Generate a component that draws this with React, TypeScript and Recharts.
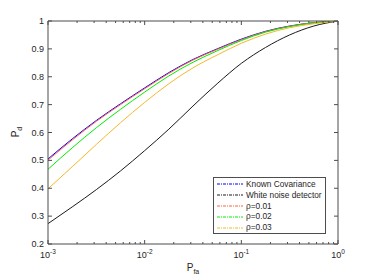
import { LineChart, Line, XAxis, YAxis, Legend } from 'recharts'

const pfa = [0.001, 0.00178, 0.00316, 0.00562, 0.01, 0.0178, 0.0316, 0.0562, 0.1, 0.178, 0.316, 0.562, 1]
const knownCov = [0.505, 0.577, 0.643, 0.703, 0.76, 0.815, 0.862, 0.9, 0.935, 0.963, 0.982, 0.994, 1]
const rho001 = [0.501, 0.573, 0.64, 0.7, 0.757, 0.812, 0.86, 0.898, 0.933, 0.962, 0.981, 0.994, 1]
const rho002 = [0.468, 0.545, 0.617, 0.683, 0.745, 0.803, 0.852, 0.893, 0.93, 0.96, 0.98, 0.993, 1]
const rho003 = [0.398, 0.477, 0.557, 0.635, 0.708, 0.775, 0.832, 0.878, 0.92, 0.953, 0.976, 0.99, 1]
const whiteNoise = [0.273, 0.333, 0.395, 0.462, 0.535, 0.612, 0.695, 0.775, 0.848, 0.905, 0.95, 0.982, 1]

const yTicks = [0.2, 0.3, 0.4, 0.5, 0.6, 0.7, 0.8, 0.9, 1]
const xMajor = [0.001, 0.01, 0.1, 1]
const xExp = ['-3', '-2', '-1', '0']
const xTicks = [
  0.001, 0.002, 0.003, 0.004, 0.005, 0.006, 0.007, 0.008, 0.009,
  0.01, 0.02, 0.03, 0.04, 0.05, 0.06, 0.07, 0.08, 0.09,
  0.1, 0.2, 0.3, 0.4, 0.5, 0.6, 0.7, 0.8, 0.9, 1,
]

const series = [
  { key: 'known', name: 'Known Covariance', color: '#0000ff', rho: false },
  { key: 'white', name: 'White noise detector', color: '#1a1a1a', rho: false },
  { key: 'r1', name: '=0.01', color: '#ff6040', rho: true },
  { key: 'r2', name: '=0.02', color: '#00ee00', rho: true },
  { key: 'r3', name: '=0.03', color: '#f5b82a', rho: true },
]

const data = pfa.map((p, i) => ({
  pfa: p,
  known: knownCov[i],
  white: whiteNoise[i],
  r1: rho001[i],
  r2: rho002[i],
  r3: rho003[i],
}))

const AXIS = '#4d4d4d'
const FONT = 'Liberation Sans, Arial, sans-serif'

const isMajor = (v: number) => xMajor.some((m) => Math.abs(m - v) < m * 1e-6)

const BottomTick = (props: any) => {
  const { x, y, payload } = props
  const idx = xMajor.findIndex((m) => Math.abs(m - payload.value) < m * 1e-6)
  const major = idx >= 0
  return (
    <g>
      <line x1={x} x2={x} y1={y} y2={y - (major ? 4 : 2)} stroke={AXIS} />
      {major && (
        <text x={x} y={y + 14} textAnchor="middle" fontSize={9} fill="#262626" fontFamily={FONT}>
          10
          <tspan dy={-4} fontSize={6.5}>{xExp[idx]}</tspan>
        </text>
      )}
    </g>
  )
}

const TopTick = (props: any) => {
  const { x, y, payload } = props
  const major = isMajor(payload.value)
  return <line x1={x} x2={x} y1={y} y2={y + (major ? 4 : 2)} stroke={AXIS} />
}

const LeftTick = (props: any) => {
  const { x, y, payload } = props
  return (
    <g>
      <line x1={x} x2={x + 4} y1={y} y2={y} stroke={AXIS} />
      <text x={x - 4} y={y + 3} textAnchor="end" fontSize={9} fill="#262626" fontFamily={FONT}>
        {payload.value}
      </text>
    </g>
  )
}

const RightTick = (props: any) => {
  const { x, y } = props
  return <line x1={x} x2={x - 4} y1={y} y2={y} stroke={AXIS} />
}

const LegendBox = () => (
  <div
    style={{
      border: `1px solid ${AXIS}`,
      background: '#fff',
      padding: '1px 3px 0 2px',
      fontFamily: FONT,
      fontSize: 8.3,
      color: '#262626',
      lineHeight: '10.8px',
      textAlign: 'left',
    }}
  >
    {series.map((s) => (
      <div key={s.key} style={{ display: 'flex', alignItems: 'center', whiteSpace: 'nowrap' }}>
        <svg width={28} height={6} style={{ marginRight: 2 }}>
          <line x1={1} x2={27} y1={3} y2={3} stroke={s.color} strokeDasharray="3 1 1 1" />
        </svg>
        <span>{s.rho ? `ρ${s.name}` : s.name}</span>
      </div>
    ))}
  </div>
)

const App = () => {
  return (
    <div style={{ position: 'absolute', left: 0, top: 0, width: 374, height: 280, background: '#fff' }}>
      <LineChart width={374} height={280} data={data} margin={{ top: 20, right: 35, bottom: 0, left: 0 }}>
        <XAxis
          dataKey="pfa"
          type="number"
          scale="log"
          domain={[0.001, 1]}
          ticks={xTicks}
          interval={0}
          height={36}
          tickSize={0}
          tickMargin={0}
          tickLine={false}
          stroke={AXIS}
          tick={<BottomTick />}
          allowDataOverflow
        />
        <XAxis
          xAxisId="top"
          orientation="top"
          dataKey="pfa"
          type="number"
          scale="log"
          domain={[0.001, 1]}
          ticks={xTicks}
          interval={0}
          height={1}
          tickSize={0}
          tickMargin={0}
          tickLine={false}
          stroke={AXIS}
          tick={<TopTick />}
          allowDataOverflow
        />
        <YAxis
          type="number"
          domain={[0.2, 1]}
          ticks={yTicks}
          interval={0}
          width={48}
          tickSize={0}
          tickMargin={0}
          tickLine={false}
          stroke={AXIS}
          tick={<LeftTick />}
          allowDataOverflow
        />
        <YAxis
          yAxisId="right"
          orientation="right"
          type="number"
          domain={[0.2, 1]}
          ticks={yTicks}
          interval={0}
          width={1}
          tickSize={0}
          tickMargin={0}
          tickLine={false}
          stroke={AXIS}
          tick={<RightTick />}
          allowDataOverflow
        />
        {series.map((s) => (
          <Line
            key={s.key}
            type="monotone"
            dataKey={s.key}
            name={s.name}
            stroke={s.color}
            strokeWidth={1}
            dot={false}
            isAnimationActive={false}
          />
        ))}
        <Legend
          layout="vertical"
          align="center"
          verticalAlign="middle"
          content={<LegendBox />}
          wrapperStyle={{ position: 'absolute', left: 213, top: 177, width: 'auto' }}
        />
        <text x={19} y={132} transform="rotate(-90 19 132)" textAnchor="middle" fontSize={10} fill="#262626" fontFamily={FONT}>
          P<tspan dy={3} fontSize={7}>d</tspan>
        </text>
        <text x={193} y={271} textAnchor="middle" fontSize={10} fill="#262626" fontFamily={FONT}>
          P<tspan dy={3} fontSize={7}>fa</tspan>
        </text>
      </LineChart>
    </div>
  )
}

export default App
